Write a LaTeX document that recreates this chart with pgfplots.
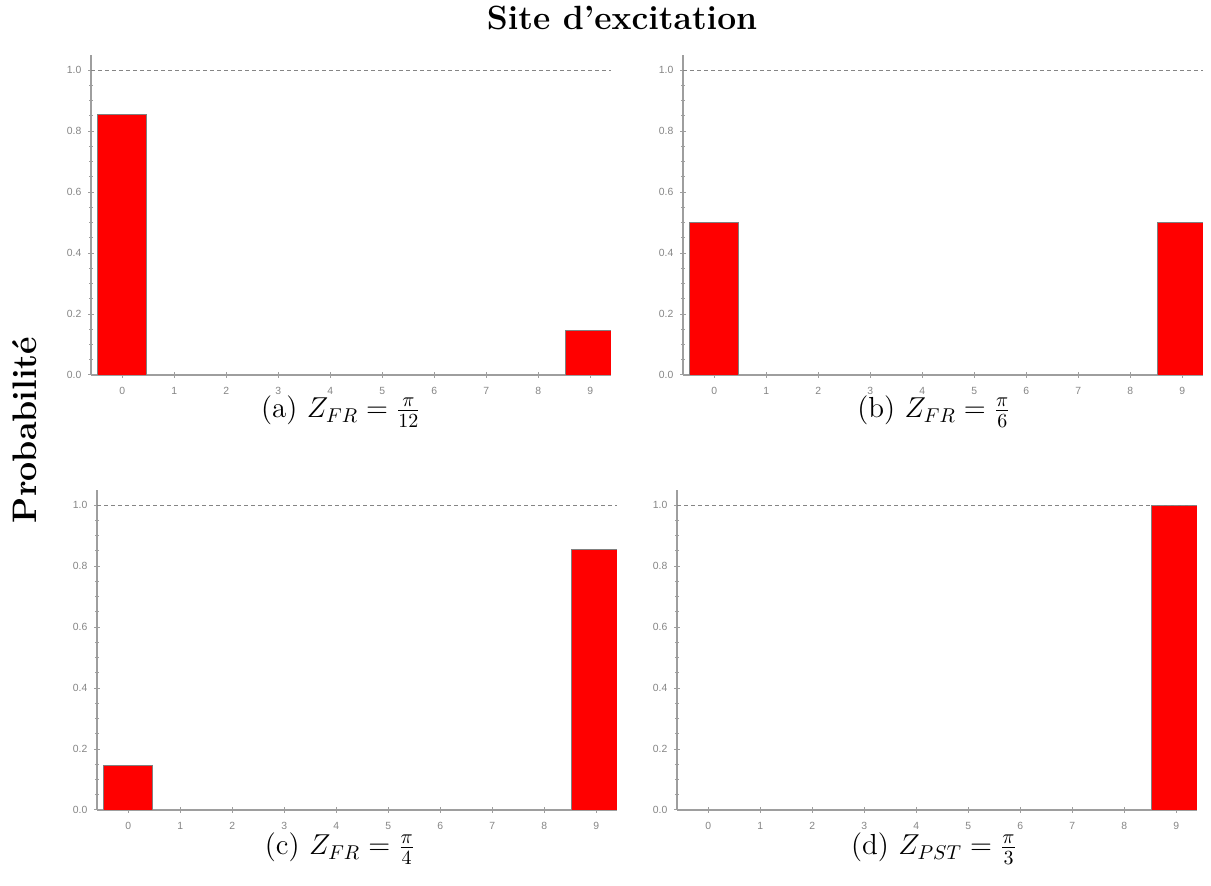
\documentclass[border=0pt]{standalone}
\usepackage{fontspec}
\setsansfont{Liberation Sans}
\usepackage{pgfplots}
\pgfplotsset{compat=1.18}
\definecolor{axgray}{gray}{0.62}
\definecolor{lblgray}{gray}{0.52}
\definecolor{barred}{RGB}{255,0,0}
\pgfplotsset{
  panel/.style={
    scale only axis, width=260pt, height=160pt, anchor=south west,
    axis lines=left, axis line style={axgray, line width=0.6pt, -},
    xmin=-0.6, xmax=9.4, ymin=0, ymax=1.05,
    xtick={0,1,...,9}, ytick={0,0.2,0.4,0.6,0.8,1.0}, minor y tick num=3,
    tick style={axgray, line width=0.5pt},
    major tick length=2.6pt, minor tick length=1.6pt,
    tick align=center,
    ticklabel style={font=\sffamily\fontsize{5.2}{6}\selectfont, text=lblgray},
    /pgf/number format/assume math mode=true,
    yticklabel style={/pgf/number format/fixed, /pgf/number format/fixed zerofill, /pgf/number format/precision=1},
    xticklabel style={yshift=-1.5pt},
  },
  bars/.style={ybar, bar width=0.94, fill=barred, draw=black!50, line width=0.4pt},
  ref/.style={lblgray, dash pattern=on 2pt off 1.5pt, line width=0.65pt},
}
\begin{document}
\begin{tikzpicture}
\path[use as bounding box] (0,0) rectangle (605.5pt,443pt);
% (a)
\begin{axis}[panel, at={(45.5pt,255.5pt)}]
\addplot[bars] coordinates {(0,0.8536) (9,0.1464)};
\addplot[ref] coordinates {(-0.6,1) (9.4,1)};
\end{axis}
% (b)
\begin{axis}[panel, at={(341.5pt,255.5pt)}]
\addplot[bars] coordinates {(0,0.5) (9,0.5)};
\addplot[ref] coordinates {(-0.6,1) (9.4,1)};
\end{axis}
% (c)
\begin{axis}[panel, at={(48.5pt,38pt)}]
\addplot[bars] coordinates {(0,0.1464) (9,0.8536)};
\addplot[ref] coordinates {(-0.6,1) (9.4,1)};
\end{axis}
% (d)
\begin{axis}[panel, at={(338.5pt,38pt)}]
\addplot[bars] coordinates {(9,1.0)};
\addplot[ref] coordinates {(-0.6,1) (9.4,1)};
\end{axis}
\node[anchor=base] at (170.5pt,234pt) {\fontsize{14.5}{17}\selectfont (a) $Z_{FR}=\frac{\pi}{12}$};
\node[anchor=base] at (467pt,234pt) {\fontsize{14.5}{17}\selectfont (b) $Z_{FR}=\frac{\pi}{6}$};
\node[anchor=base] at (170pt,15.5pt) {\fontsize{14.5}{17}\selectfont (c) $Z_{FR}=\frac{\pi}{4}$};
\node[anchor=base] at (467pt,15.5pt) {\fontsize{14.5}{17}\selectfont (d) $Z_{PST}=\frac{\pi}{3}$};
\node at (311pt,434pt) {\fontsize{16.8}{18}\selectfont\bfseries Site d’excitation};
\node[rotate=90] at (12.5pt,228pt) {\fontsize{17}{19}\selectfont\bfseries Probabilité};
\end{tikzpicture}
\end{document}
